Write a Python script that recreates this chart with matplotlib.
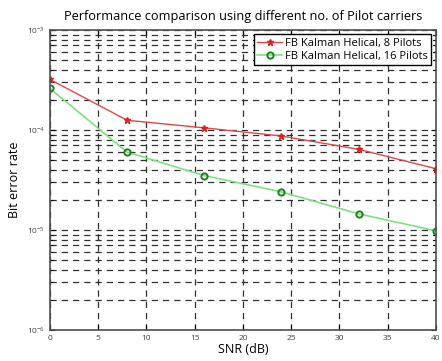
import matplotlib as mpl
import matplotlib.pyplot as plt
import numpy as np

mpl.use('agg')
plt.rcParams['font.family'] = ['Open Sans', 'DejaVu Sans']

snr = [0, 8, 16, 24, 32, 40]
ber_8 = [3.2e-4, 1.25e-4, 1.05e-4, 8.7e-5, 6.4e-5, 4.1e-5]
ber_16 = [2.6e-4, 6.0e-5, 3.5e-5, 2.4e-5, 1.45e-5, 9.8e-6]

fig = plt.figure(figsize=(4.42, 3.61), dpi=100)
ax = fig.add_axes([0.113, 0.086, 0.873, 0.831])

ax.semilogy(snr, ber_8, color='#e04848', lw=1.0, marker='*', ms=5,
            mfc='#e02020', mec='#e02020', label='FB Kalman Helical, 8 Pilots')
ax.semilogy(snr, ber_16, color='#80e080', lw=1.2, marker='o', ms=4.5,
            mfc='none', mec='#208020', mew=1.4, label='FB Kalman Helical, 16 Pilots')

ax.set_xlim(0, 40)
ax.set_ylim(1e-6, 1e-3)
ax.set_xticks(np.arange(0, 41, 5))
ax.grid(True, which='major', ls=(0, (5, 4)), color='#303030', lw=0.9)
ax.grid(True, which='minor', axis='y', ls=(0, (5, 4)), color='#303030', lw=0.9)
ax.tick_params(labelsize=6, direction='in', which='both', top=True, right=True,
               labelcolor='#404040')
for s in ax.spines.values():
    s.set_linewidth(1.2)
    s.set_color('#505050')

ax.set_xlabel('SNR (dB)', fontsize=9, labelpad=1)
ax.set_ylabel('Bit error rate', fontsize=9, labelpad=4)
ax.set_title('Performance comparison using different no. of Pilot carriers', fontsize=9.2, pad=7)

leg = ax.legend(loc='upper right', fontsize=8, handlelength=2.2, borderpad=0.3,
                labelspacing=0.2, fancybox=False, framealpha=1, borderaxespad=0.4,
                handletextpad=0.3)
leg.get_frame().set_edgecolor('black')

plt.savefig('out.png', dpi=100)
plt.close(fig)
